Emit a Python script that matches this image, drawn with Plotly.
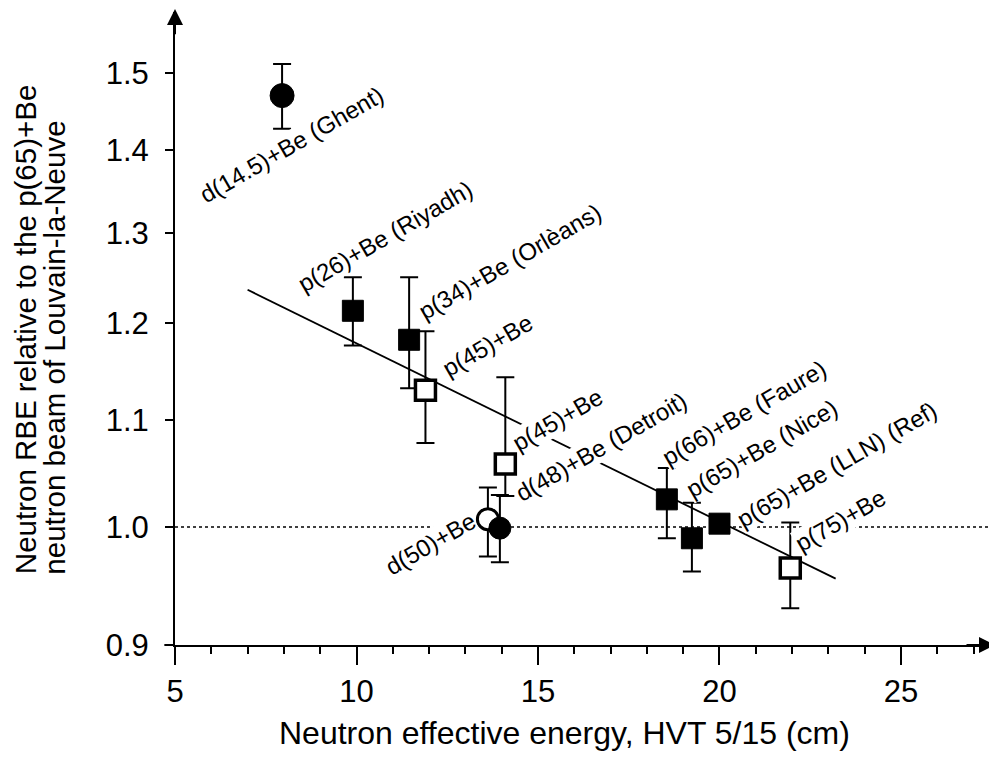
import math
import plotly.graph_objects as go

# ---------------- data ----------------
labels = ["d(14.5)+Be (Ghent)", "p(26)+Be (Riyadh)", "p(34)+Be (Orlèans)", "p(45)+Be",
          "p(45)+Be", "d(48)+Be (Detroit)", "d(50)+Be", "p(66)+Be (Faure)",
          "p(65)+Be (Nice)", "p(65)+Be (LLN) (Ref)", "p(75)+Be"]
hvt = [7.95, 9.9, 11.45, 11.9, 14.1, 13.95, 13.62, 18.55, 19.24, 20.0, 21.95]
rbe = [1.47, 1.213, 1.182, 1.130, 1.058, 0.999, 1.007, 1.025, 0.990, 1.003, 0.964]
err_plus = [0.042, 0.037, 0.068, 0.061, 0.085, 0.030, 0.029, 0.029, 0.032, 0.0, 0.040]
err_minus = [0.043, 0.037, 0.050, 0.052, 0.030, 0.030, 0.033, 0.035, 0.029, 0.0, 0.034]
kind = ["filled circle", "filled square", "filled square", "open square", "open square",
        "filled circle", "open circle", "filled square", "filled square", "filled square",
        "open square"]

fit_x = [7.0, 23.2]
fit_y = [1.236, 0.955]
ref_x = [5.0, 27.4]
ref_y = [1.0, 1.0]

x_ticks = [5, 10, 15, 20, 25]
y_ticks = [0.9, 1.0, 1.1, 1.2, 1.3, 1.4, 1.5]
y_ticktext = ["0.9", "1.0", "1.1", "1.2", "1.3", "1.4", "1.5"]

# label placement (centre of rotated label, data units)
label_x = [8.22, 10.79, 14.23, 13.6, 15.55, 16.76, 12.05, 20.70, 21.17, 23.24, 23.32]
label_y = [1.4066, 1.2958, 1.2672, 1.1756, 1.1004, 1.0742, 0.985, 1.1072, 1.0723, 1.057, 1.0055]

FONT = "Liberation Sans, Arial, Helvetica, sans-serif"

fig = go.Figure()

fig.add_trace(go.Scatter(x=ref_x, y=ref_y, mode="lines",
                         line=dict(color="black", width=1.6, dash="dot"),
                         showlegend=False, hoverinfo="skip"))
fig.add_trace(go.Scatter(x=fit_x, y=fit_y, mode="lines",
                         line=dict(color="black", width=1.8),
                         showlegend=False, hoverinfo="skip"))

styles = {
    "open circle": dict(symbol="circle", size=21, color="white", opacity=1,
                        line=dict(color="black", width=3)),
    "filled square": dict(symbol="square", size=21, color="black", opacity=1,
                          line=dict(color="black", width=1)),
    "open square": dict(symbol="square", size=20, color="white", opacity=1,
                        line=dict(color="black", width=3.5)),
}
sizes_fc = {"d(14.5)+Be (Ghent)": 24, "d(48)+Be (Detroit)": 22}

for k in ["open circle", "filled circle", "filled square", "open square"]:
    idx = [i for i in range(len(hvt)) if kind[i] == k]
    if k == "filled circle":
        marker = dict(symbol="circle", size=[sizes_fc[labels[i]] for i in idx],
                      color="black", opacity=1, line=dict(color="black", width=1))
    else:
        marker = styles[k]
    fig.add_trace(go.Scatter(
        x=[hvt[i] for i in idx], y=[rbe[i] for i in idx], mode="markers",
        marker=marker,
        error_y=dict(type="data", symmetric=False,
                     array=[err_plus[i] for i in idx],
                     arrayminus=[err_minus[i] for i in idx],
                     color="black", thickness=2, width=9),
        showlegend=False, hoverinfo="skip"))

annotations = []
for t, lx, ly in zip(labels, label_x, label_y):
    annotations.append(dict(x=lx, y=math.log10(ly), xref="x", yref="y", text=t,
                            showarrow=False, textangle=-30, xanchor="center",
                            yanchor="middle", bgcolor="white", borderpad=0,
                            font=dict(family=FONT, size=24, color="black")))

# axis titles
annotations.append(dict(x=0.4744, y=-0.139, xref="paper", yref="paper",
                        text="Neutron effective energy, HVT 5/15 (cm)", showarrow=False,
                        xanchor="center", yanchor="middle",
                        font=dict(family=FONT, size=32, color="black")))
annotations.append(dict(x=-0.1829, y=0.108, xref="paper", yref="paper",
                        text="Neutron RBE relative to the p(65)+Be", showarrow=False,
                        textangle=-90, xanchor="center", yanchor="bottom",
                        font=dict(family=FONT, size=29.5, color="black")))
annotations.append(dict(x=-0.1463, y=0.108, xref="paper", yref="paper",
                        text="neutron beam of Louvain-la-Neuve", showarrow=False,
                        textangle=-90, xanchor="center", yanchor="bottom",
                        font=dict(family=FONT, size=29.5, color="black")))
# axis arrowheads
annotations.append(dict(x=1.0, y=0.0, xref="paper", yref="paper", text="",
                        showarrow=True, arrowhead=2, arrowsize=1.6, arrowwidth=2,
                        arrowcolor="black", ax=-30, ay=0))
annotations.append(dict(x=0.0, y=1.01, xref="paper", yref="paper", text="",
                        showarrow=True, arrowhead=2, arrowsize=1.6, arrowwidth=2,
                        arrowcolor="black", ax=0, ay=30))

shapes = [
    dict(type="line", xref="paper", yref="paper", x0=-0.013, x1=0, y0=0, y1=0,
         line=dict(color="black", width=2)),
    dict(type="line", xref="paper", yref="paper", x0=0, x1=0, y0=-0.016, y1=0,
         line=dict(color="black", width=2)),
]

fig.update_layout(
    width=989, height=763,
    margin=dict(l=167, r=2, t=4, b=126),
    paper_bgcolor="white", plot_bgcolor="white",
    showlegend=False,
    annotations=annotations,
    shapes=shapes,
    xaxis=dict(range=[5, 27.59], showline=True, linecolor="black", linewidth=2,
               showgrid=False, zeroline=False, tickmode="array", tickvals=x_ticks,
               ticks="outside", ticklen=18, tickwidth=2, tickcolor="black",
               ticklabelstandoff=0,
               tickfont=dict(family=FONT, size=31, color="black"),
               minor=dict(dtick=1, ticks="outside", ticklen=7, tickwidth=1.5,
                          tickcolor="black", showgrid=False)),
    yaxis=dict(type="log", range=[math.log10(0.9), 0.19974], showline=True,
               linecolor="black", linewidth=2, showgrid=False, zeroline=False,
               tickmode="array", tickvals=y_ticks, ticktext=y_ticktext,
               ticks="outside", ticklen=8, tickwidth=2, tickcolor="black",
               ticklabelstandoff=10,
               tickfont=dict(family=FONT, size=31, color="black")),
)

fig.write_html("out.html")
